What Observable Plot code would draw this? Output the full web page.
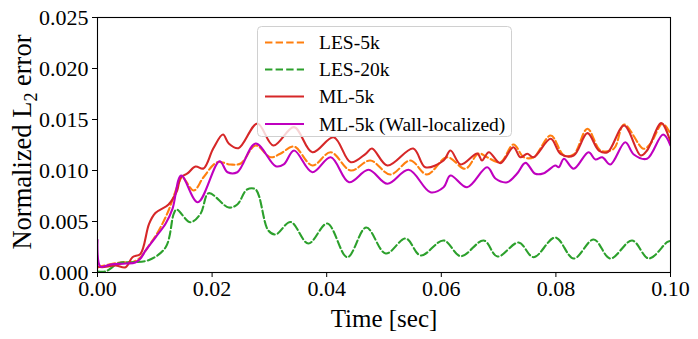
<!DOCTYPE html>
<html>
<head>
<meta charset="utf-8">
<script src="https://cdn.jsdelivr.net/npm/d3@7"></script>
<script src="https://cdn.jsdelivr.net/npm/@observablehq/plot@0.6"></script>
<style>
  html, body { margin: 0; padding: 0; background: white; }
</style>
</head>
<body>
<div id="wrap"></div>
<script>
// ---- data ----
const seriesNames = ["LES-5k", "LES-20k", "ML-5k", "ML-5k (Wall-localized)"];
const seriesColors = ["#ff7f0e", "#2ca02c", "#d62728", "#bf00bf"];
const seriesDashed = [true, true, false, false];

const tLes5k = [0, 0.0005, 0.0026, 0.0043, 0.0061, 0.0075, 0.009, 0.0107, 0.0124, 0.0142, 0.0148, 0.0168, 0.0185, 0.0209, 0.0232, 0.025, 0.0276, 0.0302, 0.0319, 0.0343, 0.0375, 0.0407, 0.0442, 0.0476, 0.0511, 0.0546, 0.0575, 0.061, 0.0642, 0.0665, 0.068, 0.0703, 0.0726, 0.0744, 0.0761, 0.0791, 0.0814, 0.0831, 0.0855, 0.0878, 0.0901, 0.0919, 0.0953, 0.0965, 0.0986, 0.1];
const vLes5k = [0.00049, 0.00059, 0.00085, 0.00101, 0.00101, 0.0015, 0.00265, 0.00412, 0.00608, 0.00882, 0.00934, 0.00804, 0.00934, 0.01081, 0.01059, 0.01069, 0.01245, 0.0113, 0.01164, 0.01235, 0.01049, 0.01179, 0.01, 0.01098, 0.00961, 0.01098, 0.00961, 0.0113, 0.01017, 0.01167, 0.0113, 0.01081, 0.01255, 0.0113, 0.0113, 0.01343, 0.01147, 0.01157, 0.01409, 0.01196, 0.01213, 0.01451, 0.01213, 0.01262, 0.01458, 0.0136];

const tLes20k = [0, 0.0014, 0.0037, 0.0061, 0.009, 0.0119, 0.0133, 0.0138, 0.0162, 0.018, 0.0194, 0.0229, 0.0244, 0.0261, 0.0276, 0.0298, 0.0311, 0.0337, 0.0368, 0.0401, 0.0436, 0.0469, 0.0503, 0.0538, 0.0564, 0.0604, 0.0634, 0.0674, 0.0698, 0.0735, 0.0761, 0.0799, 0.0831, 0.0866, 0.0895, 0.0933, 0.0962, 0.0994, 0.1];
const vLes20k = [0.0001, 0.0001, 0.00091, 0.00101, 0.00123, 0.00248, 0.00575, 0.00618, 0.00493, 0.00578, 0.00777, 0.00637, 0.00667, 0.00814, 0.00814, 0.00412, 0.00373, 0.00495, 0.00284, 0.0048, 0.0015, 0.00441, 0.00186, 0.00333, 0.00167, 0.00314, 0.0016, 0.00314, 0.00157, 0.00294, 0.0015, 0.00343, 0.00137, 0.00324, 0.00137, 0.00314, 0.00137, 0.00297, 0.0031];

const tMl5k = [0, 0.0008, 0.0031, 0.0049, 0.0061, 0.0075, 0.009, 0.0101, 0.0124, 0.0139, 0.0145, 0.0157, 0.0171, 0.0185, 0.0202, 0.0219, 0.0229, 0.0246, 0.0279, 0.0307, 0.0343, 0.0375, 0.0412, 0.0442, 0.0468, 0.0479, 0.0506, 0.0551, 0.0572, 0.0604, 0.0616, 0.0634, 0.0663, 0.0671, 0.0683, 0.0703, 0.0726, 0.0738, 0.075, 0.0761, 0.0791, 0.0808, 0.0831, 0.0855, 0.0875, 0.089, 0.0919, 0.0948, 0.0959, 0.0984, 0.1];
const vMl5k = [0.00059, 0.00052, 0.00069, 0.00052, 0.0015, 0.00183, 0.00477, 0.00583, 0.00667, 0.00804, 0.00931, 0.00971, 0.01039, 0.0102, 0.01216, 0.01353, 0.01265, 0.01219, 0.01461, 0.01245, 0.01425, 0.01179, 0.01326, 0.01081, 0.01164, 0.01216, 0.01049, 0.01216, 0.01032, 0.01098, 0.01196, 0.01059, 0.01167, 0.01098, 0.01179, 0.01072, 0.01228, 0.0113, 0.01164, 0.0113, 0.01311, 0.01164, 0.01147, 0.01366, 0.01196, 0.01179, 0.01441, 0.01147, 0.01196, 0.01464, 0.01277];

const tMlWall = [0, 0.0005, 0.0023, 0.0049, 0.0066, 0.0075, 0.0084, 0.0101, 0.0119, 0.0131, 0.0146, 0.0175, 0.0213, 0.0227, 0.0244, 0.0276, 0.0311, 0.0325, 0.0343, 0.0375, 0.0407, 0.0439, 0.0473, 0.0506, 0.0543, 0.0581, 0.0604, 0.0616, 0.0645, 0.068, 0.0695, 0.0715, 0.0732, 0.0747, 0.0764, 0.0779, 0.0799, 0.0805, 0.0814, 0.0831, 0.0857, 0.0869, 0.0881, 0.0895, 0.0921, 0.0936, 0.0959, 0.0987, 0.1];
const vMlWall = [0.0032, 0.00059, 0.00078, 0.00088, 0.00098, 0.00137, 0.00216, 0.00343, 0.0048, 0.00627, 0.00951, 0.00689, 0.01091, 0.00983, 0.00983, 0.01265, 0.01042, 0.01059, 0.01196, 0.00983, 0.0113, 0.00885, 0.01007, 0.0087, 0.01007, 0.00787, 0.00836, 0.00951, 0.00836, 0.01032, 0.00919, 0.00885, 0.00968, 0.01075, 0.00968, 0.00974, 0.01049, 0.01032, 0.01115, 0.01017, 0.01179, 0.01108, 0.0113, 0.01059, 0.01277, 0.01157, 0.01115, 0.01353, 0.01245];

const xTicks = [0, 0.02, 0.04, 0.06, 0.08, 0.10];
const yTicks = [0, 0.005, 0.010, 0.015, 0.020, 0.025];
const xLabel = "Time [sec]";
const yLabelParts = ["Normalized L", "2", " error"];

// ---- build ----
const times = [tLes5k, tLes20k, tMl5k, tMlWall];
const values = [vLes5k, vLes20k, vMl5k, vMlWall];
const series = seriesNames.map((name, i) => ({
  name, color: seriesColors[i], dashed: seriesDashed[i],
  rows: times[i].map((t, j) => ({t, v: values[i][j]}))
}));

const serif = "'Liberation Serif', 'Times New Roman', serif";
const dash = "7.4,3.2";
const chart = Plot.plot({
  width: 698, height: 339,
  marginLeft: 97, marginRight: 28, marginTop: 17, marginBottom: 67,
  x: {domain: [0, 0.1]},
  y: {domain: [0, 0.025]},
  style: {fontFamily: serif, fontSize: "22px", color: "black", background: "white", overflow: "visible"},
  marks: [
    Plot.axisX({ticks: xTicks, tickFormat: d3.format(".2f"), tickSize: 5, tickPadding: 3, label: null, stroke: "black", fill: "black"}),
    Plot.axisY({ticks: yTicks, tickFormat: d3.format(".3f"), tickSize: 5, tickPadding: 4, label: null, stroke: "black", fill: "black"}),
    ...series.map(s => Plot.line(s.rows, {
      x: "t", y: "v", stroke: s.color, strokeWidth: 2.1,
      strokeDasharray: s.dashed ? dash : null, curve: "catmull-rom", clip: true
    })),
    Plot.frame({stroke: "black", strokeWidth: 1.1}),
    Plot.text([xLabel], {frameAnchor: "bottom", dy: 54, lineAnchor: "bottom", fontSize: 25, fill: "black"})
  ]
});

const svg = d3.select(chart);
const yl = svg.append("text")
  .attr("transform", "translate(31,142) rotate(-90)")
  .attr("text-anchor", "middle")
  .attr("font-family", serif)
  .attr("font-size", 26.5)
  .attr("fill", "black");
yl.append("tspan").text(yLabelParts[0]);
yl.append("tspan").attr("font-size", 18).attr("dy", 6).text(yLabelParts[1]);
yl.append("tspan").attr("dy", -6).text(yLabelParts[2]);

// legend (matplotlib-style box, drawn in the same SVG)
const lg = svg.append("g").attr("transform", "translate(257,26)").attr("text-anchor", "start");
lg.append("rect").attr("x", 0.5).attr("y", 0.5).attr("width", 254).attr("height", 110)
  .attr("rx", 4).attr("fill", "white").attr("fill-opacity", 0.8)
  .attr("stroke", "#d0d0d0").attr("stroke-width", 1);
const rowY = [16.5, 43.5, 70.5, 98];
series.forEach((s, i) => {
  lg.append("line").attr("x1", 8).attr("x2", 47).attr("y1", rowY[i]).attr("y2", rowY[i])
    .attr("stroke", s.color).attr("stroke-width", 2.1)
    .attr("stroke-dasharray", s.dashed ? dash : null);
  lg.append("text").attr("x", 62).attr("y", rowY[i] + 6.5)
    .attr("text-anchor", "start")
    .attr("font-family", serif).attr("font-size", 19.5).attr("fill", "black")
    .text(s.name);
});

document.getElementById("wrap").appendChild(chart);
</script>
</body>
</html>
